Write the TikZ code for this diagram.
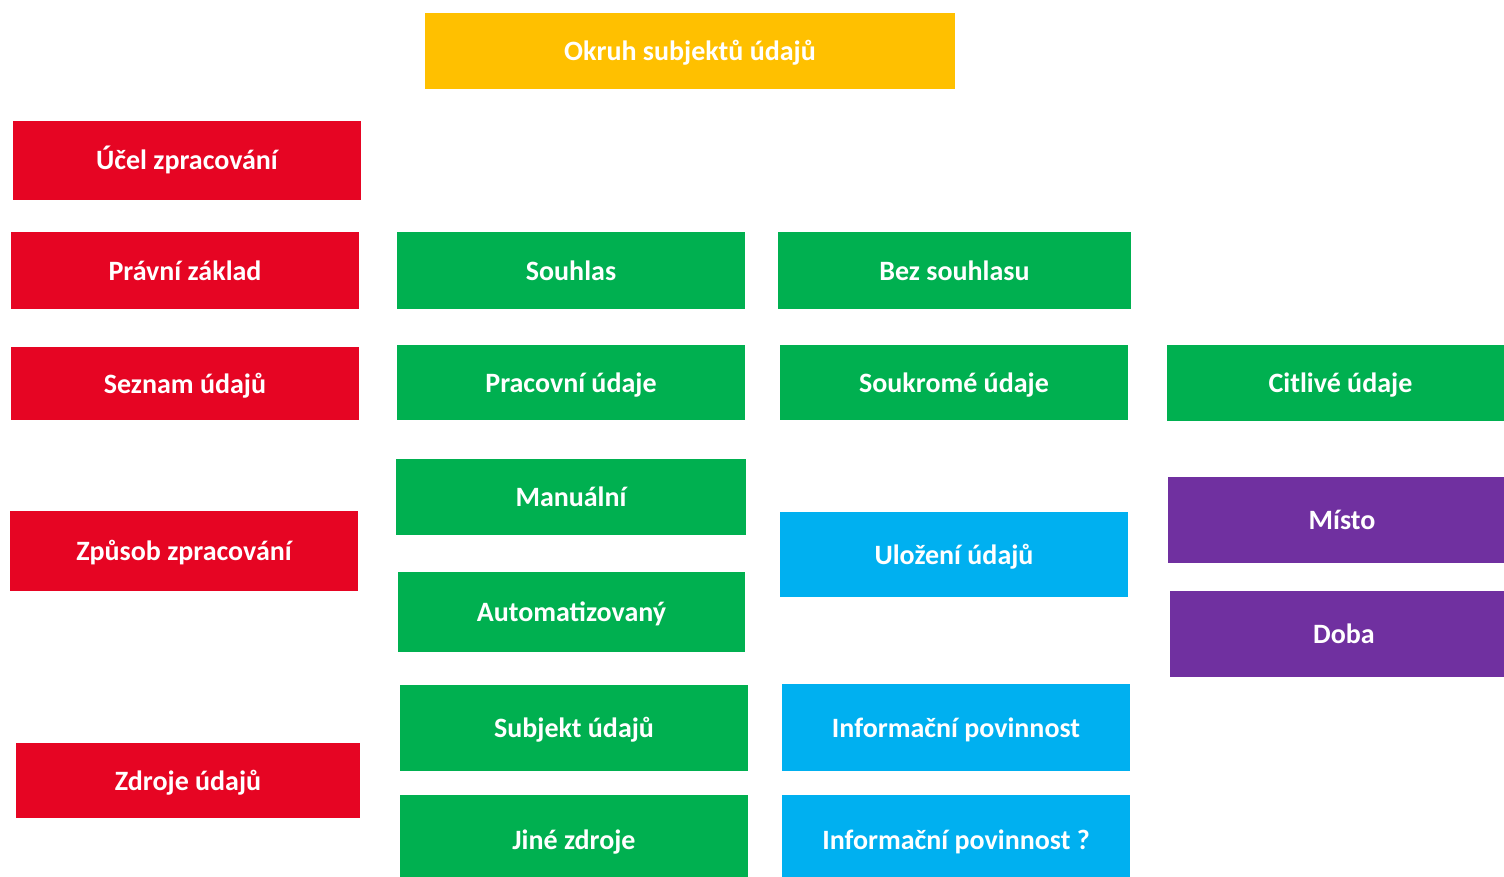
\documentclass[tikz,border=0pt]{standalone}
\usepackage{fontspec}
\setmainfont{Carlito}
\definecolor{cred}{HTML}{E60523}
\definecolor{cgreen}{HTML}{00B050}
\definecolor{cblue}{HTML}{00B0F0}
\definecolor{cpurple}{HTML}{7030A0}
\definecolor{cyellow}{HTML}{FFC000}
\tikzset{
  box/.style={inner sep=0pt, outer sep=0pt, text=white, font=\fontsize{28}{33}\selectfont\bfseries, text height=19pt, text depth=-1pt, anchor=center},
}
\begin{document}
\begin{tikzpicture}[x=1pt,y=-1pt]
\useasboundingbox (0,0) rectangle (1504,877);
\fill[white] (0,0) rectangle (1504,877);
\node[box, fill=cyellow, minimum width=530, minimum height=76] (okruh) at (690,51) {Okruh subjektů údajů};
\node[box, fill=cred, minimum width=348, minimum height=79] (ucel) at (187,160.5) {Účel zpracování};
\node[box, fill=cred, minimum width=348, minimum height=77] (pravni) at (185,270.5) {Právní základ};
\node[box, fill=cred, minimum width=348, minimum height=73] (seznam) at (185,383.5) {Seznam údajů};
\node[box, fill=cred, minimum width=348, minimum height=80] (zpusob) at (184,551) {Způsob zpracování};
\node[box, fill=cred, minimum width=344, minimum height=75] (zdroje) at (188,780.5) {Zdroje údajů};
\node[box, fill=cgreen, minimum width=348, minimum height=77] (souhlas) at (571,270.5) {Souhlas};
\node[box, fill=cgreen, minimum width=353, minimum height=77] (bez) at (954.5,270.5) {Bez souhlasu};
\node[box, fill=cgreen, minimum width=348, minimum height=75] (pracovni) at (571,382.5) {Pracovní údaje};
\node[box, fill=cgreen, minimum width=348, minimum height=75] (soukrome) at (954,382.5) {Soukromé údaje};
\node[box, fill=cgreen, minimum width=347, minimum height=76] (citlive) at (1340.5,383) {Citlivé údaje};
\node[box, fill=cgreen, minimum width=350, minimum height=76] (manualni) at (571,497) {Manuální};
\node[box, fill=cgreen, minimum width=347, minimum height=80] (autom) at (571.5,612) {Automatizovaný};
\node[box, fill=cblue, minimum width=348, minimum height=85] (ulozeni) at (954,554.5) {Uložení údajů};
\node[box, fill=cpurple, minimum width=348, minimum height=86] (misto) at (1342,520) {Místo};
\node[box, fill=cpurple, minimum width=348, minimum height=86] (doba) at (1344,634) {Doba};
\node[box, fill=cgreen, minimum width=348, minimum height=86] (subjekt) at (574,728) {Subjekt údajů};
\node[box, fill=cgreen, minimum width=348, minimum height=90] (jine) at (574,840) {Jiné zdroje};
\node[box, fill=cblue, minimum width=348, minimum height=87] (info) at (956,727.5) {Informační povinnost};
\node[box, fill=cblue, minimum width=348, minimum height=90] (info2) at (956,840) {Informační povinnost ?};
\end{tikzpicture}
\end{document}
